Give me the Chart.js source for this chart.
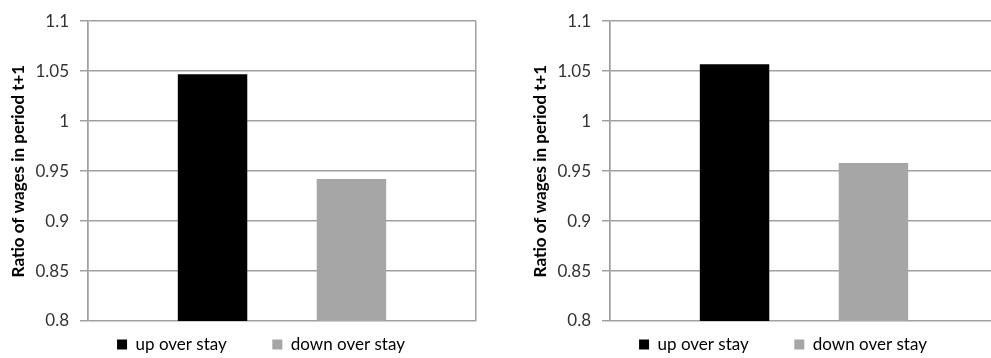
<!DOCTYPE html>
<html>
<head>
<meta charset="utf-8">
<script src="https://cdn.jsdelivr.net/npm/chart.js@4/dist/chart.umd.min.js"></script>
<style>
  html, body { margin: 0; padding: 0; background: #fff; overflow: hidden; }
  #wrap { position: relative; width: 991px; height: 358px; overflow: hidden; }
  canvas { position: absolute; top: 0; }
  #left { left: 0; }
  #right { left: 522px; }
</style>
</head>
<body>
<div id="wrap">
  <canvas id="left" width="522" height="358"></canvas>
  <canvas id="right" width="522" height="358"></canvas>
</div>
<script>
// one category, two series per panel
const categories = [''];
const seriesNames = ['up over stay', 'down over stay'];
const seriesColors = ['#000000', '#a6a6a6'];
const leftUp = [1.047];
const leftDown = [0.942];
const rightUp = [1.057];
const rightDown = [0.958];
const yTicks = [0.8, 0.85, 0.9, 0.95, 1, 1.05, 1.1];
const yTitle = 'Ratio of wages in period t+1';

const fontFamily = 'Lato, "Open Sans", sans-serif';
Chart.defaults.font.family = fontFamily;
Chart.defaults.color = '#333';

// legend padding is shared by both directions, so widen the gap between items with spaces
const legendFontSize = 17;
const legendPad = 15;
const measure = document.createElement('canvas').getContext('2d');
measure.font = legendFontSize + 'px ' + fontFamily;
const spaceW = measure.measureText(' ').width || 4;
const extraGap = ' '.repeat(Math.round(30 / spaceW));

function makeChart(id, up, down) {
  const ctx = document.getElementById(id).getContext('2d');
  return new Chart(ctx, {
    type: 'bar',
    data: {
      labels: categories,
      datasets: [
        { label: seriesNames[0], data: up, backgroundColor: seriesColors[0], borderWidth: 0 },
        { label: seriesNames[1], data: down, backgroundColor: seriesColors[1], borderWidth: 0 }
      ]
    },
    options: {
      responsive: false,
      animation: false,
      categoryPercentage: 0.716,
      barPercentage: 0.5,
      layout: { padding: { top: 11, right: 0, left: 0, bottom: -5 } },
      scales: {
        x: {
          ticks: { display: false },
          grid: { display: true, drawOnChartArea: true, drawTicks: false, color: '#a0a0a0', lineWidth: 1.5 },
          border: { display: false },
          afterFit: s => { s.height = 0; }
        },
        y: {
          min: 0.8,
          max: 1.1,
          afterBuildTicks: s => { s.ticks = yTicks.map(v => ({ value: v })); },
          ticks: {
            font: { size: 17 },
            padding: 11,
            callback: v => String(+v.toFixed(2))
          },
          grid: { color: '#a0a0a0', lineWidth: 1.5, tickLength: 8 },
          border: { color: '#a0a0a0', width: 1.5 },
          title: {
            display: true,
            text: yTitle,
            font: { size: 17, weight: 'bold' },
            color: '#000',
            padding: { top: 8, bottom: 0 }
          },
          afterFit: s => { s.width = 88; }
        },
        // empty right gutter so the legend still centres on the whole panel
        gutter: {
          type: 'linear',
          position: 'right',
          ticks: { display: false },
          grid: { display: false },
          border: { display: false },
          afterFit: s => { s.width = 46; }
        }
      },
      plugins: {
        legend: {
          position: 'bottom',
          labels: {
            boxWidth: 10,
            boxHeight: 10,
            padding: legendPad,
            color: '#000',
            font: { size: legendFontSize },
            generateLabels: chart => {
              const items = Chart.defaults.plugins.legend.labels.generateLabels(chart);
              items.forEach((it, i) => {
                it.lineWidth = 0;
                if (i < items.length - 1) it.text = it.text + extraGap;
              });
              return items;
            }
          }
        },
        tooltip: { enabled: false }
      }
    }
  });
}

makeChart('left', leftUp, leftDown);
makeChart('right', rightUp, rightDown);
</script>
</body>
</html>
